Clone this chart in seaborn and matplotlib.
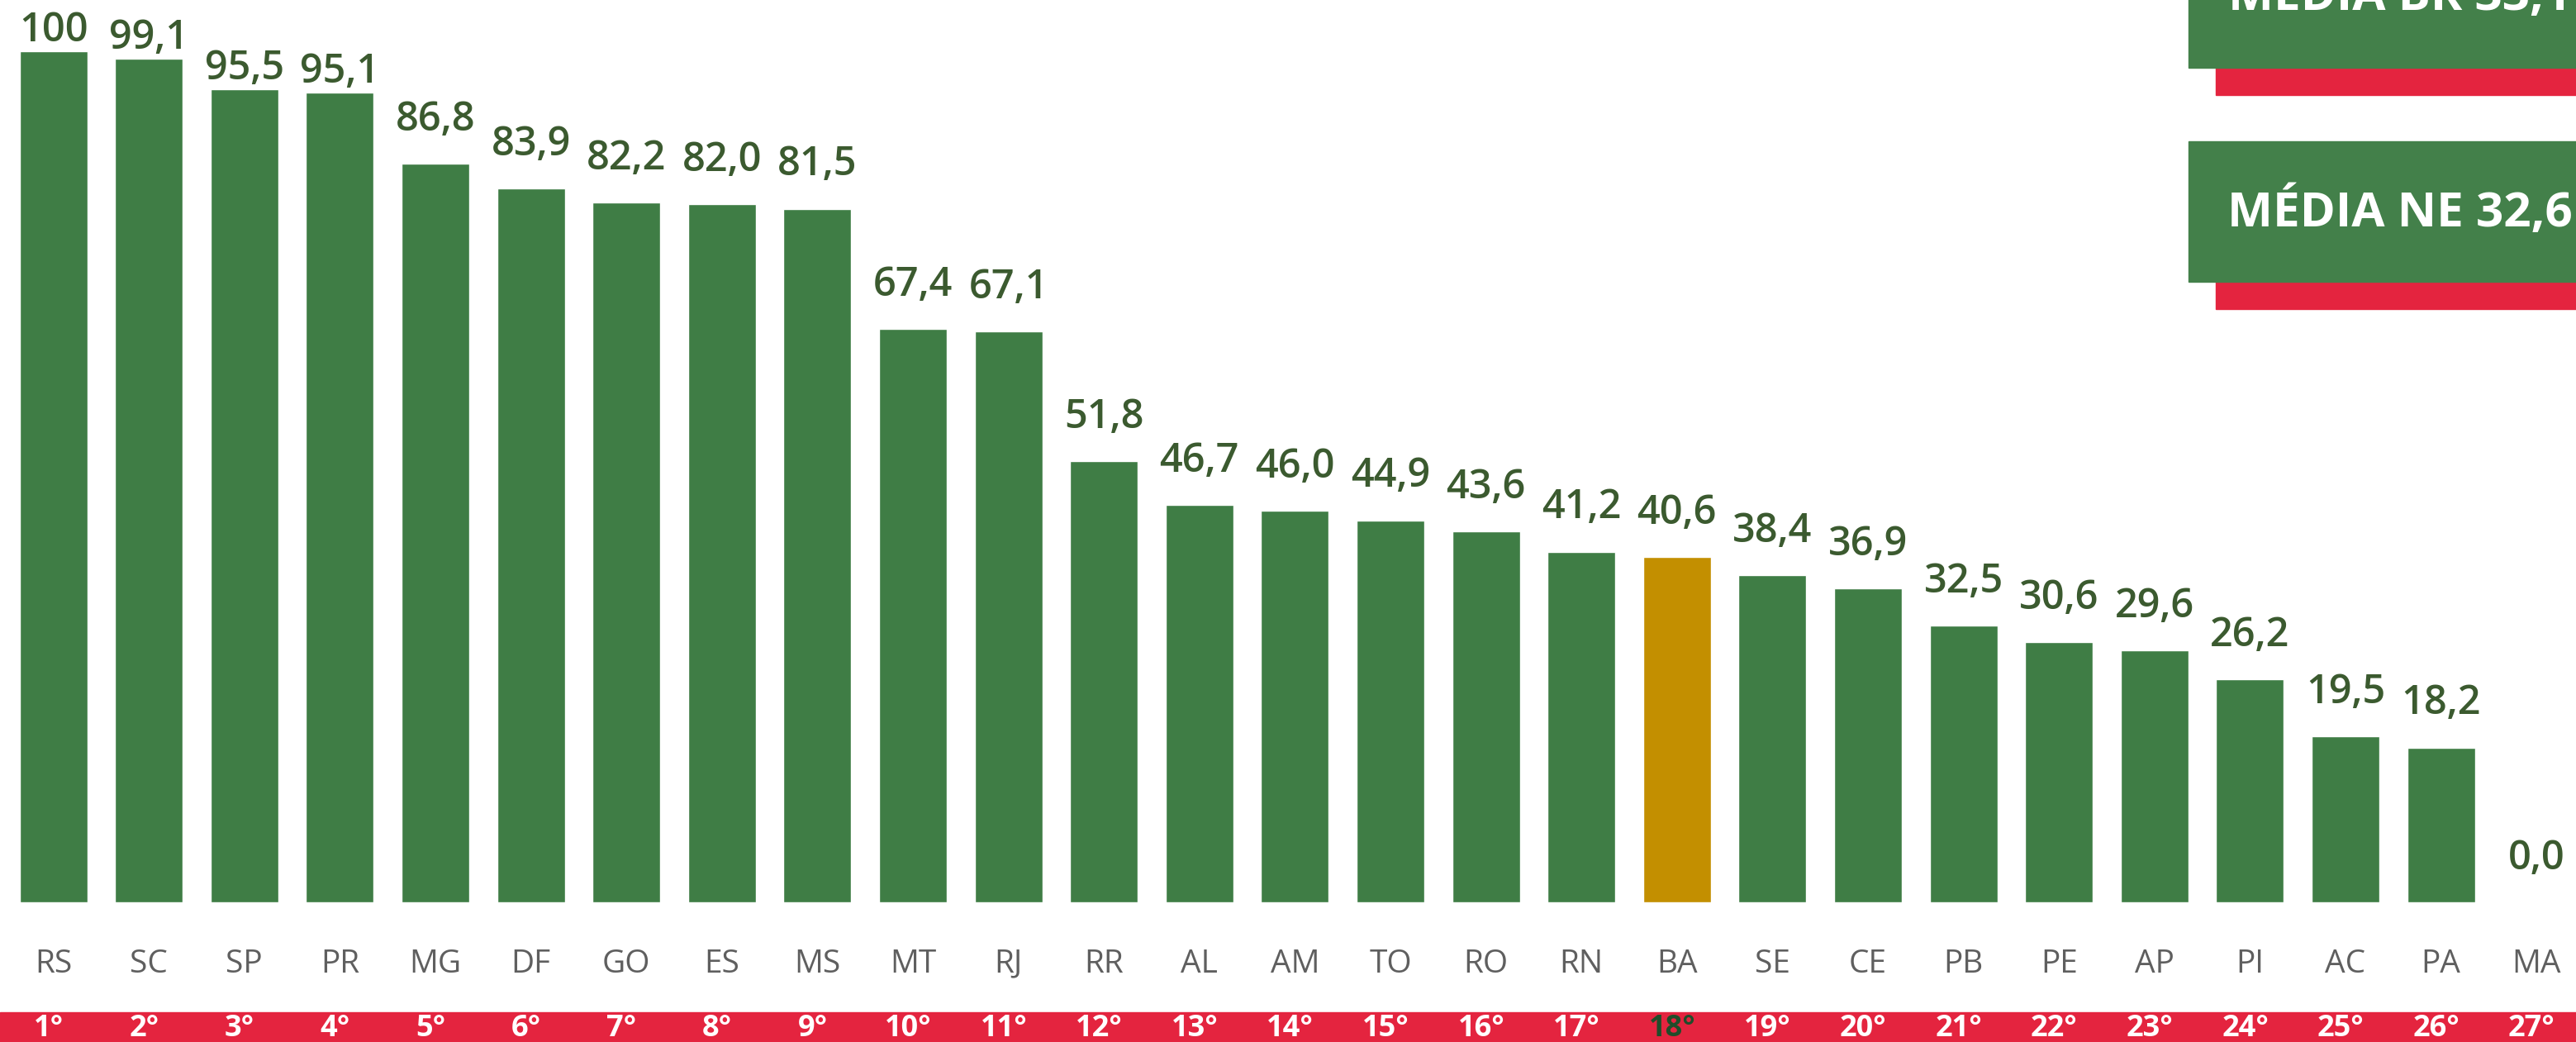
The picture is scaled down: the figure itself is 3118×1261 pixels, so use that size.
import matplotlib
matplotlib.use("Agg")
import matplotlib.pyplot as plt
from matplotlib.patches import Rectangle
from matplotlib.transforms import blended_transform_factory
import seaborn as sns

# data
states = ['RS', 'SC', 'SP', 'PR', 'MG', 'DF', 'GO', 'ES', 'MS', 'MT', 'RJ', 'RR', 'AL', 'AM',
          'TO', 'RO', 'RN', 'BA', 'SE', 'CE', 'PB', 'PE', 'AP', 'PI', 'AC', 'PA', 'MA']
values = [100, 99.1, 95.5, 95.1, 86.8, 83.9, 82.2, 82.0, 81.5, 67.4, 67.1, 51.8, 46.7, 46.0,
          44.9, 43.6, 41.2, 40.6, 38.4, 36.9, 32.5, 30.6, 29.6, 26.2, 19.5, 18.2, 0.0]
ranks = [f'{i}°' for i in range(1, 28)]
highlight = 'BA'
media_br = 33.1
media_ne = 32.6

GREEN = '#3f7d45'
BOX_GREEN = '#43804a'
GOLD = '#c38f00'
RED = '#e4243f'
LABEL_GREEN = '#3b5a2f'

W, H = 3118, 1261
sns.set_theme(style='white')
plt.rcParams['font.family'] = ['Open Sans', 'DejaVu Sans']

fig = plt.figure(figsize=(W / 100, H / 100), dpi=100)
ax = fig.add_axes([6.8 / W, (H - 1092) / H, 27 * 115.6 / W, 1030 / H])

palette = {s: (GOLD if s == highlight else GREEN) for s in states}
sns.barplot(x=states, y=values, hue=states, palette=palette, legend=False,
            width=0.71, saturation=1, ax=ax)

ax.set_xlim(-0.5, 26.5)
ax.set_ylim(0, 100)
ax.set_yticks([])
ax.set_xlabel('')
ax.set_ylabel('')
sns.despine(ax=ax, left=True, bottom=True)
ax.tick_params(axis='x', length=0, pad=40, labelsize=28, labelcolor='#5f5f5f')

# value labels
for i, v in enumerate(values):
    txt = '100' if v == 100 else f'{v:.1f}'.replace('.', ',')
    off = 9 if v > 90 else 29
    ax.annotate(txt, (i, v), xytext=(0, off), textcoords='offset points',
                ha='center', va='baseline', fontsize=35, fontweight='semibold',
                color=LABEL_GREEN, annotation_clip=False)

# red ranking strip at the bottom
fig.patches.append(Rectangle((0, 0), 1, 36 / H, transform=fig.transFigure,
                             color=RED, zorder=-1))
trans = blended_transform_factory(ax.transData, fig.transFigure)
for i, r in enumerate(ranks):
    c = '#1f4d2a' if states[i] == highlight else 'white'
    ax.text(i - 0.05, 16 / H, r, transform=trans, ha='center', va='center',
            fontsize=26, fontweight='bold', color=c, clip_on=False, zorder=5)

# average boxes on the right
def box(y_top, y_bot, text, text_y):
    fig.patches.append(Rectangle((2682 / W, (H - y_bot - 33) / H), (W - 2682) / W, 33 / H,
                                 transform=fig.transFigure, color=RED, zorder=1))
    fig.patches.append(Rectangle((2649 / W, (H - y_bot) / H), (W - 2649) / W, (y_bot - y_top) / H,
                                 transform=fig.transFigure, color=BOX_GREEN, zorder=2))
    fig.text(2905 / W, (H - text_y) / H, text, ha='center', va='center',
             fontsize=42, fontweight='bold', color='white', zorder=3)

box(-88, 82, f'MÉDIA BR {media_br:.1f}'.replace('.', ','), -4)
box(171, 341, f'MÉDIA NE {media_ne:.1f}'.replace('.', ','), 258)

fig.savefig('out.png', dpi=100, facecolor='white')
